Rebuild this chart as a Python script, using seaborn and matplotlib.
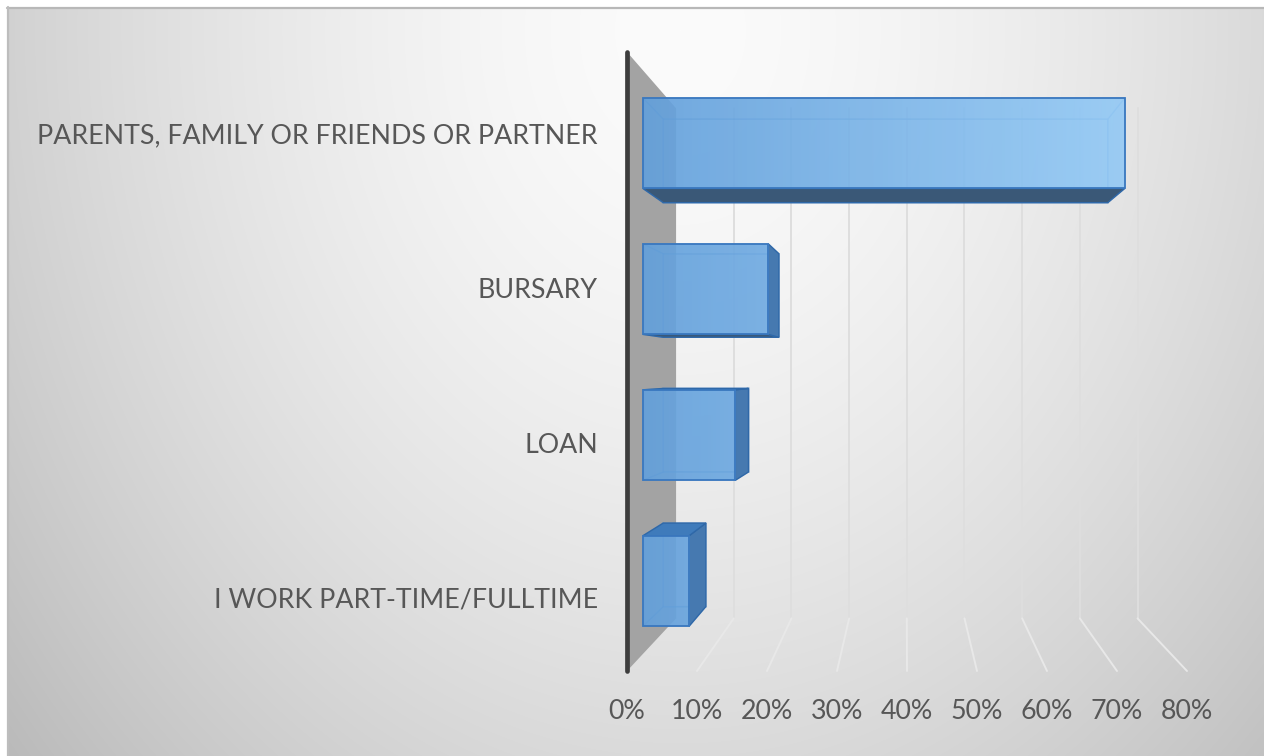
import numpy as np
import pandas as pd
import matplotlib
matplotlib.use("Agg")
import matplotlib.pyplot as plt
import seaborn as sns
from matplotlib.transforms import Affine2D, ScaledTranslation
from matplotlib.patches import Polygon

# ---- data ----------------------------------------------------------------
categories = [
    "PARENTS, FAMILY OR FRIENDS OR PARTNER",
    "BURSARY",
    "LOAN",
    "I WORK PART-TIME/FULLTIME",
]
shares = [0.73, 0.19, 0.14, 0.07]
tick_values = [0.0, 0.1, 0.2, 0.3, 0.4, 0.5, 0.6, 0.7, 0.8]
tick_labels = ["0%", "10%", "20%", "30%", "40%", "50%", "60%", "70%", "80%"]

# ---- style ---------------------------------------------------------------
sns.set_style("white")
plt.rcParams["font.family"] = ["Lato", "DejaVu Sans"]
TEXT = "#575757"

W, H = 1264, 756
fig = plt.figure(figsize=(W / 100, H / 100), dpi=100, facecolor="white")

# soft radial background with a thin frame on the top/left edges
bg = fig.add_axes([0, 0, 1, 1], zorder=-10)
yy, xx = np.mgrid[0:H, 0:W]
r = np.sqrt(((xx - 680) / 800.0) ** 2 + ((yy - 30) / 1000.0) ** 2)
v = np.clip(251 - 55 * r ** 1.6, 0, 255) / 255.0
img = np.dstack([v, v, v])
img[:7, :, :] = 1.0
img[:, :7, :] = 1.0
bg.imshow(img, extent=(0, W, H, 0), interpolation="bilinear", aspect="auto")
bg.plot([7, W], [7.5, 7.5], color="#b8b8b8", lw=1.6)
bg.plot([7.5, 7.5], [7, H], color="#bdbdbd", lw=1.6)
bg.set_xlim(0, W)
bg.set_ylim(H, 0)
bg.axis("off")

# front plane of the 3-D box
ax = fig.add_axes([627 / W, 1 - 671 / H, 560 / W, 619 / H])
ax.set_facecolor("none")

df = pd.DataFrame({"source": categories, "share": shares})
sns.barplot(data=df, x="share", y="source", orient="h", width=0.62,
            color="#6ea8e0", saturation=1, ax=ax,
            edgecolor="#3a78bf", linewidth=1.3, zorder=7)
bars = list(ax.patches)

ax.set_xlim(0, 0.8)
ax.set_ylim(len(categories) - 0.5, -0.5)
ax.set_xticks(tick_values, tick_labels)
ax.tick_params(axis="both", length=0, labelsize=19.3, labelcolor=TEXT)
ax.tick_params(axis="x", pad=20)
ax.tick_params(axis="y", pad=21)
ax.set_xlabel("")
ax.set_ylabel("")
ax.grid(False)
for s in ax.spines.values():
    s.set_visible(False)

# category labels sit a touch below the band centres
nudge = ScaledTranslation(0, -4 / 100, fig.dpi_scale_trans)
for lab in ax.get_yticklabels():
    lab.set_transform(lab.get_transform() + nudge)

# perspective: points recede toward a centre in axes coordinates
cx, cy = 0.498, 0.483
K_WALL, K_FRONT, K_BACK = 0.824, 0.943, 0.870


def depth(k):
    return Affine2D().translate(-cx, -cy).scale(k).translate(cx, cy)


def proj(pts, k):
    pts = np.asarray(pts, dtype=float)
    return np.array([cx, cy]) + (pts - np.array([cx, cy])) * k


to_axes = ax.transScale + ax.transLimits

# back-wall gridlines and their floor continuation
for t in tick_values[1:]:
    xa = to_axes.transform([[t, 0]])[0][0]
    top = proj([xa, 1.0], K_WALL)
    bot = proj([xa, 0.0], K_WALL)
    ax.plot([top[0], bot[0]], [top[1], bot[1]], transform=ax.transAxes,
            color="#dedede", lw=1.4, zorder=1, clip_on=False)
    ax.plot([bot[0], xa], [bot[1], 0.0], transform=ax.transAxes,
            color="#e8e8e8", lw=1.4, zorder=1, clip_on=False)

# grey side wall on the left
wall = Polygon([[0, 1], proj([0, 1], K_WALL), proj([0, 0], K_WALL), [0, 0]],
               closed=True, transform=ax.transAxes, fc="#a3a3a3", ec="none",
               zorder=2, clip_on=False)
ax.add_patch(wall)

# dark front edge of the wall
ax.plot([0, 0], [0, 1], transform=ax.transAxes, color="#3d3d3d", lw=3.4,
        solid_capstyle="round", zorder=8, clip_on=False)

# 3-D boxes built from the seaborn bars
grad = np.linspace(0, 1, 256)
c0 = np.array([0.36, 0.60, 0.84])
c1 = np.array([0.64, 0.84, 0.99])
grad_rgb = (c0 + (c1 - c0) * grad[:, None])[None, :, :]

outer_colors = {"lower": "#3a5877", "right": "#4679b0", "upper": "#3f7bbb", "left": "#4679b0"}
front_tf = ax.transScale + ax.transLimits + depth(K_FRONT) + ax.transAxes
for bar in bars:
    x0, y0 = bar.get_xy()
    w, h = bar.get_width(), bar.get_height()
    pts = to_axes.transform([[x0, y0], [x0 + w, y0 + h]])
    xa0, xa1 = sorted(pts[:, 0])
    ya0, ya1 = sorted(pts[:, 1])
    rect = [[xa0, ya0], [xa1, ya0], [xa1, ya1], [xa0, ya1]]
    F = proj(rect, K_FRONT)
    B = proj(rect, K_BACK)

    ax.add_patch(Polygon(B, closed=True, transform=ax.transAxes, fc="#9ccaf0",
                         alpha=0.35, ec="#4683c6", lw=1.1, zorder=3, clip_on=False))
    faces = {
        "lower": (0, 1, ya0 > cy),
        "right": (1, 2, xa1 < cx),
        "upper": (2, 3, ya1 < cy),
        "left": (3, 0, xa0 > cx),
    }
    for name, (i, j, outer) in faces.items():
        quad = [F[i], F[j], B[j], B[i]]
        if outer:
            ax.add_patch(Polygon(quad, closed=True, transform=ax.transAxes,
                                 fc=outer_colors[name], ec="#2f68a8", lw=1.0,
                                 zorder=5, clip_on=False))
        else:
            ax.add_patch(Polygon(quad, closed=True, transform=ax.transAxes,
                                 fc="#8fc3f0", alpha=0.3, ec="#4683c6", lw=1.0,
                                 zorder=4, clip_on=False))

    bar.set_transform(front_tf)
    bar.set_facecolor((0.45, 0.70, 0.93, 0.15))
    bar.set_clip_on(False)
    im = ax.imshow(grad_rgb, extent=(0, 1, 0, 1), transform=ax.transAxes,
                   aspect="auto", interpolation="bilinear", alpha=0.85, zorder=6)
    im.set_clip_path(bar)

ax.set_xlim(0, 0.8)
ax.set_ylim(len(categories) - 0.5, -0.5)

fig.savefig("out.png", dpi=100, facecolor="white")
